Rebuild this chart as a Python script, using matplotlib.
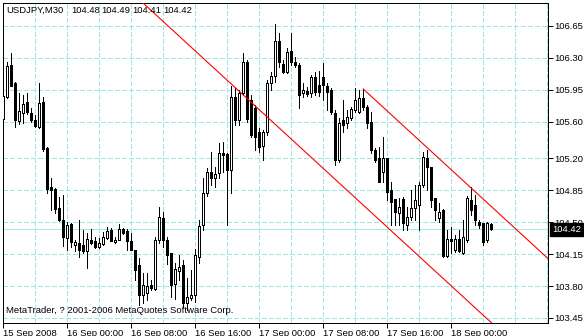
import numpy as np
import pandas as pd
import matplotlib
matplotlib.use("Agg")
import matplotlib.pyplot as plt
from matplotlib.transforms import blended_transform_factory

# ---------------- data ----------------
symbol = "USDJPY,M30"
start_time = "2008-09-15 16:00"
copyright_text = "MetaTrader, ? 2001-2006 MetaQuotes Software Corp."

opens = [105.63, 105.87, 106.22, 106.02, 105.61, 105.70, 105.82, 105.70, 105.62, 105.54,
         105.82, 105.31, 104.89, 104.86, 104.65, 104.52, 104.33, 104.48, 104.25, 104.27,
         104.25, 104.18, 104.30, 104.29, 104.23, 104.26, 104.33, 104.41, 104.28, 104.31,
         104.43, 104.40, 104.29, 104.20, 104.03, 103.70, 103.72, 103.81, 103.77, 104.30,
         104.55, 104.30, 104.16, 103.82, 103.97, 104.03, 103.61, 103.67, 103.70, 104.12,
         104.47, 104.82, 105.05, 104.98, 105.04, 105.26, 105.25, 105.07, 105.87, 105.62,
         105.92, 106.25, 105.84, 105.75, 105.49, 105.33, 105.49, 106.03, 106.10, 106.49,
         106.23, 106.15, 106.38, 106.26, 106.22, 105.92, 105.94, 105.92, 106.09, 106.00,
         106.09, 105.99, 105.95, 105.70, 105.18, 105.62, 105.59, 105.64, 105.73, 105.71,
         105.86, 105.76, 105.60, 105.29, 105.20, 105.05, 105.20, 104.85, 104.75, 104.60,
         104.75, 104.47, 104.56, 104.66, 104.69, 104.91, 105.20, 105.10, 104.77, 104.55,
         104.63, 104.13, 104.32, 104.20, 104.32, 104.16, 104.30, 104.74, 104.69, 104.50,
         104.49, 104.30, 104.48]
highs = [105.90, 106.25, 106.35, 106.04, 105.91, 105.89, 105.91, 105.75, 105.67, 106.03,
         105.87, 105.32, 104.98, 104.87, 104.78, 104.80, 104.50, 104.49, 104.31, 104.52,
         104.41, 104.38, 104.43, 104.34, 104.33, 104.39, 104.45, 104.44, 104.34, 104.48,
         104.44, 104.43, 104.38, 104.20, 104.11, 103.94, 103.94, 103.87, 104.34, 104.67,
         104.61, 104.34, 104.16, 104.05, 104.14, 104.09, 103.89, 103.98, 104.21, 104.52,
         104.98, 105.09, 105.27, 105.11, 105.37, 105.38, 105.26, 105.99, 105.97, 105.95,
         106.35, 106.28, 105.89, 105.78, 105.53, 105.51, 106.06, 106.15, 106.67, 106.57,
         106.28, 106.41, 106.57, 106.31, 106.24, 106.03, 105.98, 106.11, 106.15, 106.16,
         106.24, 106.03, 105.97, 105.73, 105.64, 105.84, 105.73, 105.76, 105.97, 105.95,
         105.96, 105.78, 105.71, 105.31, 105.32, 105.43, 105.20, 104.94, 104.75, 104.77,
         104.78, 104.67, 104.85, 104.91, 104.94, 105.27, 105.29, 105.11, 104.77, 104.71,
         104.64, 104.41, 104.45, 104.36, 104.41, 104.52, 104.79, 104.89, 104.80, 104.52,
         104.49, 104.50, 104.49]
lows = [105.60, 105.86, 105.99, 105.54, 105.58, 105.59, 105.68, 105.60, 105.54, 105.53,
        105.28, 104.82, 104.63, 104.60, 104.51, 104.24, 104.19, 104.23, 104.18, 104.12,
        104.16, 104.00, 104.26, 104.22, 104.22, 104.25, 104.32, 104.29, 104.27, 104.30,
        104.37, 104.19, 104.19, 103.87, 103.59, 103.61, 103.65, 103.76, 103.76, 104.27,
        104.23, 104.04, 103.68, 103.66, 103.87, 103.57, 103.54, 103.65, 103.63, 104.05,
        104.41, 104.79, 104.91, 104.88, 104.98, 105.05, 104.47, 104.82, 105.57, 105.57,
        105.89, 105.60, 105.43, 105.29, 105.27, 105.18, 105.46, 105.95, 106.04, 106.20,
        106.14, 106.14, 106.22, 106.20, 105.75, 105.87, 105.88, 105.87, 105.89, 105.88,
        105.84, 105.73, 105.68, 105.13, 105.16, 105.49, 105.53, 105.62, 105.71, 105.70,
        105.73, 105.53, 105.26, 105.16, 104.94, 104.94, 104.74, 104.47, 104.47, 104.47,
        104.41, 104.41, 104.52, 104.52, 104.41, 104.89, 104.85, 104.67, 104.52, 104.50,
        104.12, 104.12, 104.16, 104.17, 104.17, 104.15, 104.28, 104.58, 104.47, 104.44,
        104.25, 104.28, 104.41]
closes = [105.88, 106.21, 105.99, 105.62, 105.72, 105.80, 105.71, 105.62, 105.55, 105.81,
          105.30, 104.86, 104.85, 104.64, 104.52, 104.34, 104.47, 104.28, 104.28, 104.20,
          104.18, 104.32, 104.27, 104.23, 104.27, 104.34, 104.40, 104.29, 104.31, 104.42,
          104.38, 104.29, 104.20, 103.98, 103.70, 103.81, 103.80, 103.78, 104.30, 104.56,
          104.30, 104.14, 103.81, 103.99, 104.01, 103.61, 103.68, 103.70, 104.14, 104.46,
          104.82, 105.05, 104.98, 105.03, 105.26, 105.24, 105.07, 105.87, 105.62, 105.92,
          106.25, 105.63, 105.46, 105.43, 105.32, 105.49, 106.03, 106.10, 106.48, 106.25,
          106.15, 106.37, 106.26, 106.22, 105.89, 105.95, 105.90, 106.09, 105.93, 105.93,
          106.00, 105.93, 105.71, 105.18, 105.59, 105.57, 105.65, 105.74, 105.84, 105.86,
          105.76, 105.59, 105.29, 105.18, 104.94, 105.20, 104.83, 104.72, 104.61, 104.67,
          104.49, 104.56, 104.66, 104.74, 104.91, 105.21, 105.10, 104.74, 104.63, 104.61,
          104.13, 104.32, 104.29, 104.32, 104.18, 104.34, 104.76, 104.63, 104.52, 104.47,
          104.28, 104.49, 104.42]

price_ticks = [106.65, 106.30, 105.95, 105.60, 105.20, 104.85, 104.50, 104.15, 103.80, 103.45]
price_range = (103.395, 106.905)

# channel anchors (bar index, price)
channel_bars = [35, 122]
channel_prices = [106.90, 103.40]
upper_start_bar = 90
upper_start_price = 105.96

# ---------------- style ----------------
W, H = 584, 336
plt.rcParams["font.family"] = ["Liberation Sans", "DejaVu Sans"]
plt.rcParams["lines.scale_dashes"] = False
FS = 6.8
PX = 0.72  # one pixel in points
grid_color = "#a0e6e6"

fig = plt.figure(figsize=(W / 100, H / 100), dpi=100)
fig.patch.set_facecolor("white")
ax_l, ax_r, ax_t, ax_b = 2.7, 548.0, 2.7, 323.0
ax = fig.add_axes([ax_l / W, 1 - ax_b / H, (ax_r - ax_l) / W, (ax_b - ax_t) / H])
ax.set_facecolor("white")

n = len(opens)
x = np.arange(n)
times = pd.date_range(start_time, periods=n, freq="30min")

ax.set_xlim(-0.125, 136.2)
ax.set_ylim(*price_range)

# grid
dash = (0, (2.9, 1.45))
for p in price_ticks:
    ax.axhline(p, color=grid_color, lw=PX, ls=dash, zorder=0, antialiased=False)
for i in range(8, 137, 8):
    ax.axvline(i, color=grid_color, lw=PX, ls=dash, zorder=0, antialiased=False)

# current price line
ax.axhline(closes[-1], color="#9ceeee", lw=PX, zorder=0.5, antialiased=False)

# candles
o = np.array(opens); c = np.array(closes); hi = np.array(highs); lo = np.array(lows)
ax.vlines(x, lo, hi, color="black", lw=PX, zorder=2, antialiased=False)
up = c >= o
body_w = 0.55
bot = np.minimum(o, c)
hgt = np.maximum(np.abs(c - o), 0.004)
ax.bar(x[up], hgt[up], bottom=bot[up], width=body_w, color="white",
       edgecolor="black", linewidth=PX, zorder=3, antialiased=False)
ax.bar(x[~up], hgt[~up], bottom=bot[~up], width=body_w, color="black",
       edgecolor="black", linewidth=PX, zorder=3, antialiased=False)

# channel lines
slope = (channel_prices[1] - channel_prices[0]) / (channel_bars[1] - channel_bars[0])
xa = np.array([channel_bars[0] - 5, channel_bars[1] + 5])
ax.plot(xa, channel_prices[0] + slope * (xa - channel_bars[0]), color="red", lw=0.8,
        zorder=4)
xb = np.array([upper_start_bar, 140])
ax.plot(xb, upper_start_price + slope * (xb - upper_start_bar), color="red", lw=0.8,
        zorder=4)

# axes / ticks
for s in ax.spines.values():
    s.set_color("black")
    s.set_linewidth(PX)
    s.set_antialiased(False)
ax.yaxis.tick_right()
ax.set_yticks(price_ticks)
ax.set_yticklabels([f"{p:.2f}" for p in price_ticks])
label_idx = [i for i, t in enumerate(times) if t.minute == 0 and t.hour % 8 == 0]
labels = [times[i].strftime("%d %b %Y") if k == 0 else times[i].strftime("%d %b %H:%M")
          for k, i in enumerate(label_idx)]
ax.set_xticks(label_idx)
ax.set_xticklabels(labels, ha="left")
ax.tick_params(axis="both", direction="out", length=3.6, width=PX, color="black",
               labelsize=FS, labelcolor="black")
ax.tick_params(axis="x", pad=0.6)
ax.tick_params(axis="y", pad=1.2)

# current price box
tr = blended_transform_factory(ax.transAxes, ax.transData)
ax.text(1 + 4.0 / (ax_r - ax_l), closes[-1], f"{closes[-1]:.2f}", transform=tr,
        ha="left", va="center", color="white", fontsize=FS, zorder=10, clip_on=False,
        bbox=dict(boxstyle="square,pad=0.26", facecolor="black", edgecolor="black"))

# header text
fig.text(6.5 / W, 1 - 10.5 / H, symbol, fontsize=FS, ha="left", va="center")
for xp, v in zip([71, 101.7, 132.7, 163.3], [opens[-1], highs[-1], lows[-1], closes[-1]]):
    fig.text(xp / W, 1 - 10.5 / H, f"{v:.2f}", fontsize=FS, ha="left", va="center")
fig.text(6.0 / W, 1 - 310.5 / H, copyright_text, fontsize=FS, ha="left", va="center",
         zorder=10)

fig.savefig("out.png", dpi=100, facecolor="white")
